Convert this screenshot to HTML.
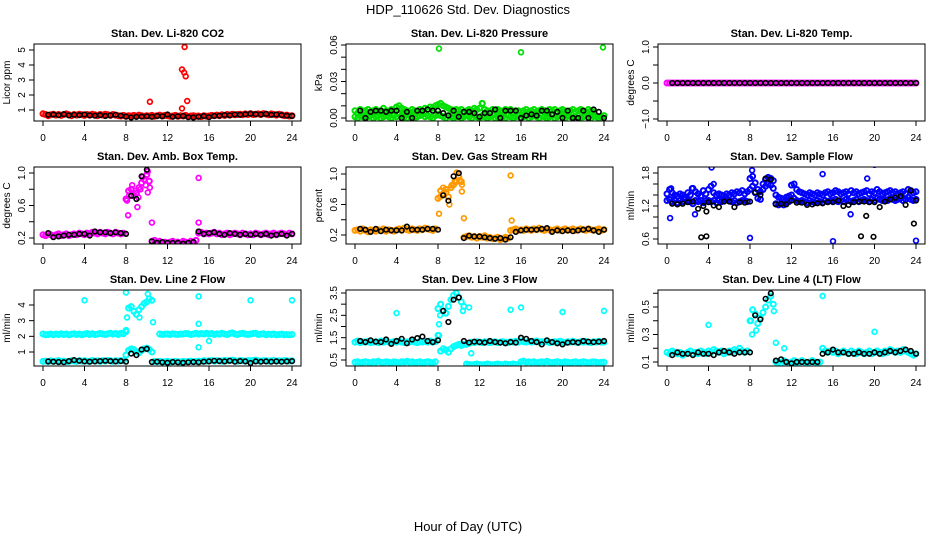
<!DOCTYPE html>
<html><head><meta charset="utf-8">
<style>
html,body{margin:0;padding:0;background:#fff;}
svg{display:block;font-family:"Liberation Sans",Arial,sans-serif;}
</style></head>
<body>
<svg id="chart" width="936" height="540" viewBox="0 0 936 540" xmlns="http://www.w3.org/2000/svg">
<text x="468" y="14" text-anchor="middle" font-size="13">HDP_110626  Std. Dev. Diagnostics</text>
<text x="468" y="531" text-anchor="middle" font-size="13">Hour of Day (UTC)</text>
</svg>
<script>
// ---- data (values at 0.25 h steps for colored series, 0.5 h for black) ----
const co2Red=[0.75,0.7,0.62,0.68,0.72,0.66,0.7,0.64,0.7,0.74,0.68,0.62,0.7,0.66,0.72,0.68,0.64,0.7,0.66,0.72,0.68,0.62,0.7,0.66,0.72,0.68,0.64,0.7,0.66,0.62,0.6,0.64,
0.58,0.62,0.6,0.64,0.6,0.66,0.62,0.58,0.62,0.6,0.64,0.58,0.62,0.66,0.6,0.64,0.62,0.58,0.6,0.64,0.58,0.62,0.6,0.64,0.56,0.6,0.62,0.58,0.6,0.56,0.62,0.58,
0.6,0.64,0.62,0.66,0.62,0.68,0.64,0.7,0.66,0.72,0.68,0.7,0.72,0.68,0.74,0.7,0.76,0.7,0.72,0.74,0.7,0.76,0.72,0.68,0.74,0.7,0.66,0.72,0.68,0.62,0.66,0.6,0.62];
const co2Black=[0.65,0.68,0.7,0.66,0.72,0.64,0.68,0.66,0.7,0.64,0.62,0.66,0.6,0.64,0.68,0.62,0.56,0.5,0.54,0.56,0.58,0.55,0.6,0.58,0.7,0.55,0.58,0.6,0.52,0.5,0.55,0.6,0.52,0.6,0.62,0.66,0.65,0.7,0.68,0.72,0.75,0.72,0.7,0.74,0.68,0.7,0.66,0.62,0.6];
const co2Out=[[10.3,1.55],[13.4,3.7],[13.6,3.5],[13.75,3.25],[13.65,5.2],[13.4,1.1],[13.9,1.6]];

const presHi=[0.006,0.004,0.007,0.005,0.006,0.007,0.005,0.006,0.007,0.005,0.006,0.008,0.006,0.005,0.007,0.006,0.009,0.010,0.008,0.007,0.006,0.005,0.007,0.006,0.005,0.007,0.006,0.008,0.007,0.009,0.008,0.010,
0.011,0.012,0.010,0.009,0.008,0.007,0.006,0.007,0.006,0.007,0.005,0.006,0.007,0.006,0.008,0.007,0.008,0.012,0.007,0.006,0.005,0.007,0.006,0.007,0.006,0.005,0.007,0.006,0.007,0.005,0.006,0.006,
0.005,0.006,0.007,0.005,0.006,0.007,0.005,0.006,0.007,0.006,0.005,0.007,0.006,0.007,0.005,0.006,0.007,0.006,0.005,0.006,0.007,0.005,0.006,0.007,0.006,0.005,0.007,0.006,0.005];
const presLo=[0.001,0.000,0.002,0.001,0.000,0.001,0.002,0.000,0.001,0.002,0.000,0.001,0.002,0.001,0.000,0.002,0.001,0.003,0.002,0.001,0.000,0.002,0.001,0.000,0.001,0.002,0.003,0.001,0.002,0.001,0.000,0.002,
0.003,0.002,0.001,0.000,0.002,0.001,0.000,0.001,0.002,0.000,0.001,0.002,0.001,0.000,0.002,0.001,0.000,0.002,0.001,0.000,0.001,0.002,0.000,0.001,0.002,0.001,0.000,0.002,0.001,0.000,0.001,0.002,
0.000,0.001,0.002,0.000,0.001,0.002,0.001,0.000,0.002,0.001,0.000,0.001,0.002,0.000,0.001,0.002,0.001,0.000,0.002,0.001,0.000,0.001,0.002,0.000,0.001,0.002,0.001,0.000,0.002,0.001,0.000,0.001,0.002];
const presBlack=[0.006,0.006,0.000,0.005,0.006,0.006,0.005,0.006,0.006,0.000,0.005,0.000,0.006,0.006,0.007,0.006,0.006,0.004,0.002,0.006,0.001,0.005,0.005,0.004,0.001,0.004,0.004,0.007,0.000,0.006,0.006,0.006,0.000,0.002,0.003,0.002,0.006,0.006,0.003,0.005,0.000,0.006,0.000,0.000,0.006,0.000,0.007,0.005,0.000];
const presOut=[[8.1,0.057],[16,0.054],[23.9,0.058],[12.3,0.012]];

const tempMag=[0,0,0,0,0,0,0,0,0,0,0,0,0,0,0,0,0,0,0,0,0,0,0,0,0,0,0,0,0,0,0,0,0,0,0,0,0,0,0,0,0,0,0,0,0,0,0,0,0,0,0,0,0,0,0,0,0,0,0,0,0,0,0,0,0,0,0,0,0,0,0,0,0,0,0,0,0,0,0,0,0,0,0,0,0,0,0,0,0,0,0,0,0,0,0,0,0];
const tempBlack=[0,0,0,0,0,0,0,0,0,0,0,0,0,0,0,0,0,0,0,0,0,0,0,0,0,0,0,0,0,0,0,0,0,0,0,0,0,0,0,0,0,0,0,0,0,0,0,0,0];
const tempOut=[];

const ambMag=[0.24,0.23,0.25,0.24,0.22,0.24,0.25,0.23,0.24,0.25,0.23,0.24,0.25,0.24,0.26,0.25,0.24,0.26,0.25,0.27,0.26,0.25,0.27,0.26,0.25,0.27,0.26,0.25,0.27,0.26,0.25,0.26,
0.68,0.78,0.8,0.72,0.75,0.82,0.88,0.92,0.98,0.9,0.16,0.17,0.15,0.16,0.14,0.15,0.13,0.15,0.16,0.14,0.15,0.14,0.16,0.15,0.14,0.16,0.15,0.17,0.26,0.27,0.25,0.26,
0.25,0.26,0.27,0.25,0.26,0.24,0.25,0.26,0.24,0.25,0.26,0.25,0.24,0.26,0.25,0.24,0.25,0.24,0.26,0.25,0.24,0.25,0.26,0.24,0.25,0.26,0.24,0.25,0.26,0.25,0.24,0.26,0.25];
const ambBlack=[0.24,0.26,0.21,0.22,0.23,0.24,0.24,0.25,0.25,0.23,0.28,0.27,0.27,0.26,0.27,0.26,0.25,0.72,0.68,0.96,1.04,0.16,0.14,0.15,0.14,0.14,0.14,0.13,0.14,0.15,0.28,0.25,0.26,0.27,0.25,0.24,0.26,0.25,0.24,0.25,0.24,0.25,0.24,0.25,0.23,0.24,0.25,0.23,0.25];
const ambOut=[[8.2,0.48],[9.1,0.58],[10.1,0.76],[10.5,0.39],[15,0.94],[15,0.39],[8.1,0.66],[8.3,0.72],[8.6,0.85],[8.9,0.78],[9.2,0.7],[9.4,0.8],[9.6,0.95],[9.9,0.85],[10.1,1.02],[10.3,0.82]];

const rhOr=[0.26,0.27,0.25,0.28,0.26,0.24,0.27,0.26,0.25,0.27,0.26,0.28,0.25,0.27,0.26,0.25,0.27,0.28,0.26,0.29,0.27,0.26,0.28,0.27,0.26,0.28,0.27,0.29,0.28,0.27,0.26,0.28,
0.68,0.78,0.74,0.8,0.7,0.82,0.86,0.9,0.96,0.9,0.17,0.18,0.19,0.17,0.18,0.16,0.18,0.17,0.19,0.16,0.17,0.15,0.16,0.17,0.14,0.15,0.17,0.16,0.26,0.27,0.28,0.26,
0.27,0.26,0.28,0.27,0.26,0.28,0.27,0.29,0.27,0.26,0.28,0.27,0.26,0.27,0.28,0.26,0.27,0.28,0.26,0.27,0.28,0.26,0.27,0.28,0.27,0.26,0.28,0.27,0.26,0.27,0.28,0.26,0.27];
const rhBlack=[0.26,0.28,0.27,0.24,0.28,0.25,0.27,0.26,0.26,0.26,0.31,0.27,0.27,0.27,0.28,0.28,0.27,0.72,0.65,0.97,1.01,0.16,0.19,0.18,0.18,0.17,0.16,0.15,0.16,0.14,0.17,0.24,0.26,0.27,0.27,0.27,0.28,0.29,0.24,0.26,0.25,0.26,0.25,0.26,0.27,0.28,0.26,0.24,0.27];
const rhOut=[[8.1,0.48],[10.3,0.77],[10.5,0.42],[15,0.98],[15.1,0.39],[8.2,0.7],[8.5,0.82],[8.8,0.76],[9.1,0.6],[9.3,0.85],[9.6,0.9],[9.8,1.02],[10.1,0.92],[10.3,0.86]];

const flowHi=[1.42,1.5,1.44,1.4,1.38,1.42,1.4,1.36,1.44,1.4,1.52,1.46,1.42,1.38,1.48,1.42,1.5,1.56,1.44,1.4,1.42,1.4,1.38,1.42,1.4,1.44,1.42,1.46,1.44,1.48,1.42,1.46,
1.7,1.74,1.62,1.5,1.46,1.6,1.68,1.72,1.7,1.66,1.4,1.36,1.34,1.32,1.36,1.38,1.58,1.6,1.5,1.46,1.44,1.42,1.4,1.44,1.42,1.4,1.44,1.42,1.4,1.44,1.46,1.42,
1.44,1.48,1.46,1.42,1.44,1.46,1.42,1.48,1.44,1.46,1.42,1.44,1.46,1.48,1.42,1.46,1.44,1.5,1.46,1.42,1.44,1.46,1.48,1.44,1.46,1.42,1.44,1.46,1.42,1.5,1.48,1.44,1.46];
const flowLo=[1.3,1.32,1.28,1.3,1.26,1.3,1.28,1.32,1.3,1.28,1.24,1.3,1.28,1.3,1.26,1.3,1.3,1.28,1.3,1.26,1.3,1.28,1.3,1.32,1.3,1.28,1.3,1.26,1.28,1.3,1.3,1.28,
1.5,1.56,1.44,1.34,1.32,1.5,1.56,1.6,1.58,1.52,1.24,1.22,1.24,1.22,1.26,1.28,1.4,1.34,1.3,1.28,1.3,1.28,1.26,1.3,1.28,1.26,1.3,1.28,1.26,1.3,1.28,1.3,
1.3,1.32,1.28,1.3,1.28,1.32,1.3,1.28,1.3,1.32,1.28,1.3,1.32,1.3,1.28,1.32,1.3,1.34,1.32,1.3,1.32,1.3,1.34,1.32,1.3,1.32,1.34,1.3,1.32,1.36,1.32,1.3,1.32];
const flowBlack=[1.28,1.24,1.23,1.24,1.27,1.28,1.15,1.2,1.27,1.21,1.18,1.28,1.28,1.18,1.27,1.26,1.28,1.45,1.4,1.7,1.68,1.23,1.24,1.23,1.3,1.26,1.26,1.22,1.23,1.25,1.25,1.27,1.27,1.3,1.2,1.22,1.27,1.28,1.28,1.27,1.27,1.18,1.28,1.32,1.35,1.38,1.22,1.48,1.3];
const flowOut=[[0.3,0.98],[4.3,1.9],[8,0.62],[16,0.56],[20,1.95],[24,0.57],[15,1.78],[19.3,1.7],[17.7,1.05],[2.7,1.05],[0.4,1.52],[2.4,1.52],[4.5,1.6],[8.2,1.85]];
const flowBlackOut=[[3.3,0.63],[3.8,0.65],[3.8,1.1],[18.7,0.65],[19.9,0.64],[19.2,1.02],[23.8,0.88]];

const l2Hi=[2.15,2.1,2.12,2.15,2.1,2.14,2.12,2.16,2.12,2.15,2.1,2.14,2.16,2.12,2.15,2.1,2.14,2.18,2.12,2.16,2.12,2.14,2.18,2.15,2.12,2.16,2.2,2.14,2.18,2.12,2.2,2.16,
2.3,3.8,3.9,3.6,3.4,3.7,3.9,4.1,4.2,4.4,4.3,null,null,2.15,2.12,2.14,2.15,2.12,2.16,2.14,2.12,2.15,2.14,2.18,2.16,2.12,2.15,2.2,2.14,2.18,2.15,2.2,
2.15,2.18,2.12,2.16,2.14,2.2,2.15,2.12,2.18,2.22,2.15,2.12,2.16,2.2,2.14,2.12,2.15,2.18,2.2,2.12,2.14,2.16,2.1,2.14,2.12,2.15,2.1,2.12,2.14,2.1,2.12,2.1,2.12];
const l2Lo=[0.4,0.42,0.38,0.44,0.4,0.42,0.45,0.4,0.42,0.38,0.4,0.44,0.42,0.4,0.45,0.42,0.44,0.42,0.4,0.46,0.42,0.44,0.4,0.45,0.42,0.46,0.44,0.4,0.44,0.42,0.46,0.44,
0.8,1.1,1.2,1.15,1.0,0.95,1.1,1.2,1.25,1.15,1.0,0.4,0.38,0.4,0.36,0.38,0.4,0.36,0.38,0.4,0.38,0.36,0.4,0.38,0.4,0.42,0.38,0.4,0.42,0.4,0.44,0.42,
0.44,0.46,0.42,0.45,0.44,0.42,0.46,0.44,0.45,0.48,0.44,0.42,0.46,0.44,0.42,0.45,0.44,0.46,0.48,0.44,0.42,0.45,0.44,0.42,0.44,0.46,0.42,0.44,0.42,0.45,0.44,0.42,0.44];
const l2Black=[0.38,0.4,0.38,0.36,0.35,0.42,0.48,0.44,0.4,0.38,0.4,0.42,0.44,0.42,0.4,0.42,0.38,0.9,0.8,1.15,1.2,0.36,0.38,0.34,0.32,0.36,0.34,0.32,0.34,0.36,0.34,0.38,0.4,0.44,0.42,0.4,0.44,0.38,0.42,0.4,0.3,0.4,0.38,0.4,0.38,0.4,0.38,0.4,0.42];
const l2Out=[[4,4.3],[8,4.8],[10.1,4.7],[15,4.55],[20,4.3],[24,4.3],[10.6,2.9],[15,2.8],[15,1.3],[16,1.7],[8.1,3.2],[9.3,3.2],[8,2.4]];

const l3Hi=[1.3,1.35,1.28,1.32,1.3,1.34,1.28,1.3,1.32,1.28,1.35,1.3,1.34,1.3,1.28,1.32,1.3,1.34,1.3,1.28,1.32,1.3,1.34,1.3,1.28,1.32,1.3,1.34,1.3,1.35,1.3,1.32,
2.8,3.0,2.7,2.6,2.9,3.2,3.4,3.5,3.3,3.1,2.9,1.2,1.25,1.3,1.28,1.32,1.3,1.28,1.32,1.3,1.28,1.3,1.32,1.28,1.3,1.32,1.3,1.28,1.32,1.3,1.34,1.3,
1.35,1.32,1.3,1.34,1.3,1.32,1.35,1.3,1.32,1.3,1.34,1.28,1.3,1.32,1.3,1.34,1.3,1.28,1.32,1.3,1.34,1.3,1.28,1.32,1.3,1.34,1.3,1.28,1.32,1.3,1.34,1.3,1.3];
const l3Lo=[0.4,0.42,0.38,0.4,0.42,0.4,0.38,0.42,0.4,0.44,0.4,0.38,0.42,0.4,0.38,0.42,0.4,0.38,0.42,0.4,0.44,0.4,0.42,0.38,0.4,0.42,0.38,0.4,0.42,0.4,0.38,0.42,
1.6,0.9,1.0,0.95,0.85,1.0,1.1,1.15,1.2,1.15,1.2,0.32,0.3,0.28,0.3,0.32,0.3,0.28,0.3,0.32,0.3,0.28,0.3,0.32,0.3,0.28,0.32,0.3,0.3,0.32,0.3,0.28,
0.42,0.45,0.4,0.42,0.4,0.42,0.38,0.4,0.42,0.4,0.44,0.4,0.38,0.4,0.42,0.4,0.38,0.42,0.4,0.38,0.4,0.42,0.38,0.4,0.42,0.4,0.38,0.4,0.42,0.4,0.38,0.4,0.4];
const l3Black=[1.25,1.35,1.3,1.38,1.32,1.3,1.42,1.22,1.35,1.45,1.25,1.42,1.48,1.55,1.35,1.3,1.38,2.7,2.2,3.2,3.3,1.35,1.28,1.32,1.3,1.28,1.35,1.3,1.28,1.25,1.3,1.28,1.5,1.45,1.35,1.3,1.2,1.38,1.3,1.25,1.2,1.28,1.3,1.28,1.35,1.32,1.3,1.32,1.35];
const l3Out=[[4,2.6],[11,2.85],[15,2.75],[16,2.85],[20,2.65],[24,2.7],[11.2,0.8],[8.1,2.1],[8.2,2.5],[10.4,2.7],[8.1,1.6]];

const l4Cy=[0.17,0.16,0.18,0.17,0.16,0.17,0.15,0.16,0.17,0.18,0.16,0.17,0.16,0.18,0.17,0.16,0.18,0.17,0.19,0.18,0.17,0.18,0.16,0.17,0.18,0.17,0.19,0.18,0.2,0.18,0.17,0.18,
0.4,0.48,0.45,0.38,0.42,0.46,0.5,0.55,0.58,0.52,0.1,0.1,0.09,0.11,0.1,0.09,0.1,0.11,0.09,0.1,0.11,0.1,0.09,0.1,0.11,0.1,0.09,0.1,0.2,0.18,0.17,0.18,
0.17,0.18,0.16,0.17,0.18,0.17,0.16,0.18,0.17,0.16,0.18,0.17,0.16,0.17,0.18,0.16,0.17,0.18,0.17,0.16,0.18,0.17,0.19,0.18,0.17,0.18,0.17,0.19,0.18,0.17,0.16,0.15,0.16];
const l4Black=[0.16,0.15,0.17,0.16,0.16,0.15,0.17,0.16,0.16,0.15,0.17,0.18,0.17,0.16,0.17,0.17,0.17,0.44,0.41,0.56,0.6,0.11,0.12,0.1,0.09,0.1,0.1,0.1,0.1,0.1,0.16,0.17,0.19,0.17,0.17,0.16,0.16,0.17,0.16,0.16,0.17,0.16,0.17,0.18,0.17,0.18,0.19,0.18,0.16];
const l4Out=[[4,0.37],[10.5,0.24],[11.3,0.2],[15,0.58],[20,0.32],[8.2,0.3],[8.6,0.33],[8.1,0.4],[10.3,0.47]];

const xTicks=[0,4,8,12,16,20,24];

// ---- layout (positions only) ----
const panels=[
 {name:'co2',title:'Stan. Dev. Li-820 CO2',ylab:'Licor ppm',x0:34,x1:301,y0:44,y1:121,cal:[1,110,5,50],ticks:[1,2,3,4,5],labels:{1:'1',2:'2',3:'3',4:'4',5:'5'},color:'#ff0000',series:[co2Red],out:co2Out,black:co2Black,bout:[]},
 {name:'pressure',title:'Stan. Dev. Li-820 Pressure',ylab:'kPa',x0:346,x1:613,y0:44,y1:121,cal:[0,118,0.06,45],ticks:[0,0.01,0.02,0.03,0.04,0.05,0.06],labels:{0:'0.00',0.03:'0.03',0.06:'0.06'},color:'#00e000',series:[presHi,presLo],out:presOut,black:presBlack,bout:[]},
 {name:'temp',title:'Stan. Dev. Li-820 Temp.',ylab:'degrees C',x0:658,x1:925,y0:44,y1:121,cal:[-1,119,1,47],ticks:[-1,-0.5,0,0.5,1],labels:{'-1':'\u22121.0',0:'0.0',1:'1.0'},color:'#ff00ff',series:[tempMag],out:tempOut,black:tempBlack,bout:[]},
 {name:'amb-box-temp',title:'Stan. Dev. Amb. Box Temp.',ylab:'degrees C',x0:34,x1:301,y0:167,y1:244,cal:[0.2,238,1.0,173],ticks:[0.2,0.4,0.6,0.8,1.0],labels:{0.2:'0.2',0.6:'0.6',1:'1.0'},color:'#ff00ff',series:[ambMag],out:ambOut,black:ambBlack,bout:[]},
 {name:'gas-stream-rh',title:'Stan. Dev. Gas Stream RH',ylab:'percent',x0:346,x1:613,y0:167,y1:244,cal:[0.2,235,1.0,174],ticks:[0.2,0.4,0.6,0.8,1.0],labels:{0.2:'0.2',0.6:'0.6',1:'1.0'},color:'#ff9900',series:[rhOr],out:rhOut,black:rhBlack,bout:[]},
 {name:'sample-flow',title:'Stan. Dev. Sample Flow',ylab:'ml/min',x0:658,x1:925,y0:167,y1:244,cal:[0.6,239,1.8,173],ticks:[0.6,0.8,1.0,1.2,1.4,1.6,1.8],labels:{0.6:'0.6',1.2:'1.2',1.8:'1.8'},color:'#0000ff',series:[flowHi,flowLo],out:flowOut,black:flowBlack,bout:flowBlackOut},
 {name:'line2-flow',title:'Stan. Dev. Line 2 Flow',ylab:'ml/min',x0:34,x1:301,y0:290,y1:366,cal:[1,352,4,305],ticks:[1,2,3,4],labels:{1:'1',2:'2',3:'3',4:'4'},color:'#00ffff',series:[l2Hi,l2Lo],out:l2Out,black:l2Black,bout:[]},
 {name:'line3-flow',title:'Stan. Dev. Line 3 Flow',ylab:'ml/min',x0:346,x1:613,y0:290,y1:366,cal:[0.5,360,3.5,293],ticks:[0.5,1,1.5,2,2.5,3,3.5],labels:{0.5:'0.5',1.5:'1.5',2.5:'2.5',3.5:'3.5'},color:'#00ffff',series:[l3Hi,l3Lo],out:l3Out,black:l3Black,bout:[]},
 {name:'line4-flow',title:'Stan. Dev. Line 4 (LT) Flow',ylab:'ml/min',x0:658,x1:925,y0:290,y1:366,cal:[0.1,362,0.5,307],ticks:[0.1,0.2,0.3,0.4,0.5,0.6],labels:{0.1:'0.1',0.3:'0.3',0.5:'0.5'},color:'#00ffff',series:[l4Cy],out:l4Out,black:l4Black,bout:[]}
];

const NS='http://www.w3.org/2000/svg';
const svg=document.getElementById('chart');
function mk(tag,attrs,parent){const e=document.createElementNS(NS,tag);for(const k in attrs)e.setAttribute(k,attrs[k]);(parent||svg).appendChild(e);return e;}

panels.forEach((p,pi)=>{
  const g=mk('g',{});
  
  
  const xs=t=>p.x0+9+(t/24)*(p.x1-p.x0-18);
  const [v1,py1,v2,py2]=p.cal;
  const ys=v=>py1+(v-v1)*(py2-py1)/(v2-v1);
  const cid='clip'+pi;
  const cp=mk('clipPath',{id:cid},g);
  mk('rect',{x:p.x0,y:p.y0,width:p.x1-p.x0,height:p.y1-p.y0},cp);
  const t=mk('text',{x:(p.x0+p.x1)/2,y:p.y0-7,'text-anchor':'middle','font-size':'11','font-weight':'bold'},g);
  t.textContent=p.title;
  
  
  xTicks.forEach(v=>{
    const x=xs(v);
    const l=mk('line',{x1:x,x2:x,y1:p.y1,y2:p.y1+5,stroke:'#000','stroke-width':1},g);
    
    
    const tx=mk('text',{x:x,y:p.y1+20,'text-anchor':'middle','font-size':'10'},g);
    tx.textContent=String(v);
    
    
  });
  p.ticks.forEach(v=>{
    const y=ys(v);
    const l=mk('line',{x1:p.x0-5,x2:p.x0,y1:y,y2:y,stroke:'#000','stroke-width':1},g);
    
    
    const key=Object.keys(p.labels).find(k=>Math.abs(parseFloat(k)-v)<1e-9);
    if(key!==undefined){
      const tx=mk('text',{x:p.x0-9,y:y,'text-anchor':'middle','font-size':'10',transform:`rotate(-90 ${p.x0-9} ${y})`},g);
      tx.textContent=p.labels[key];
      
      
    }
  });
  const yl=mk('text',{x:p.x0-24,y:(p.y0+p.y1)/2,'text-anchor':'middle','font-size':'10',transform:`rotate(-90 ${p.x0-24} ${(p.y0+p.y1)/2})`},g);
  yl.textContent=p.ylab;
  
  
  const pg=mk('g',{'clip-path':`url(#${cid})`,fill:'none'},g);
  
  
  const dot=(t,v,col,sw,r)=>{
    const c=mk('circle',{cx:xs(t).toFixed(1),cy:ys(v).toFixed(1),r:r,stroke:col,'stroke-width':sw},pg);
    
    
  };
  p.series.forEach(arr=>arr.forEach((v,i)=>{if(v!==null)dot(i*0.25,v,p.color,2,2.5);}));
  p.out.forEach(([tt,v])=>dot(tt,v,p.color,1.7,2.4));
  p.black.forEach((v,i)=>{if(i>0)dot(i*0.5,v,'#000',1.6,2.3);});
  p.bout.forEach(([tt,v])=>dot(tt,v,'#000',1.6,2.3));
  const box=mk('rect',{x:p.x0,y:p.y0,width:p.x1-p.x0,height:p.y1-p.y0,fill:'none',stroke:'#000','stroke-width':1},g);
  
  
});
</script>
</body></html>
